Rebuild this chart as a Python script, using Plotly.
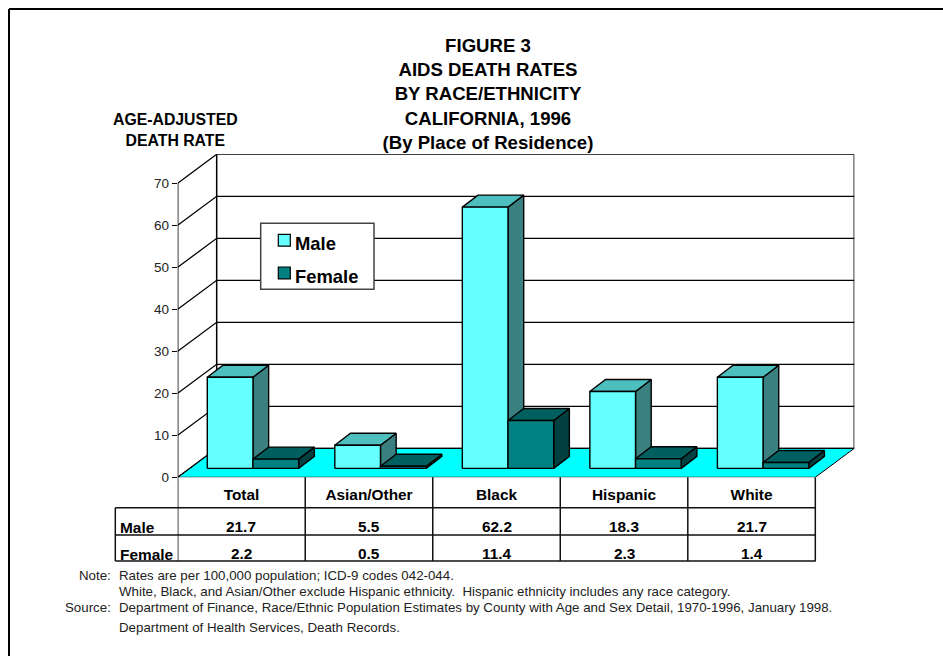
import plotly.graph_objects as go

categories = ["Total", "Asian/Other", "Black", "Hispanic", "White"]
male_rates = [21.7, 5.5, 62.2, 18.3, 21.7]
female_rates = [2.2, 0.5, 11.4, 2.3, 1.4]
y_ticks = [0, 10, 20, 30, 40, 50, 60, 70]
series_names = ["Male", "Female"]
title_lines = ["FIGURE 3", "AIDS DEATH RATES", "BY RACE/ETHNICITY", "CALIFORNIA, 1996", "(By Place of Residence)"]
note_lines = [
    "Rates are per 100,000 population; ICD-9 codes 042-044.",
    "White, Black, and Asian/Other exclude Hispanic ethnicity.  Hispanic ethnicity includes any race category.",
    "Department of Finance, Race/Ethnic Population Estimates by County with Age and Sex Detail, 1970-1996, January 1998.",
    "Department of Health Services, Death Records.",
]

W, H = 943, 656
FONT = "Liberation Sans"
LEFT, RIGHT, BOTTOM, TOP = 177.7, 854.3, 477.3, 154.3
CAT_PX = 127.6
VAL_PX = 4.2
WALL_DX = 39 / CAT_PX
WALL_DY = 29 / VAL_PX
BAR_DX = 15.7 / CAT_PX
BAR_DY = 12 / VAL_PX
BAR_X0 = (207.3 - LEFT) / CAT_PX
BAR_W = 45.7 / CAT_PX
BAR_Y0 = 8.9 / VAL_PX
N = len(categories)
MALE_COLORS = ("#3A8080", "#4DBFBF", "#66FFFF")
FEMALE_COLORS = ("#004040", "#006060", "#008080")

px = lambda p: p / W
py = lambda p: 1 - p / H


def line_trace(xs, ys, width=1.3, color="#000"):
    return go.Scatter(x=xs, y=ys, mode="lines", line=dict(color=color, width=width),
                      hoverinfo="skip", showlegend=False, cliponaxis=False)


def faces(values, slot):
    """Front, top and side polygons of one series, built from its values."""
    front, top, side = ([], []), ([], []), ([], [])
    for i, v in enumerate(values):
        x0 = i + BAR_X0 + slot * BAR_W
        x1 = x0 + BAR_W
        y0 = BAR_Y0
        y1 = y0 + v
        for target, xs, ys in (
            (front, [x0, x1, x1, x0, x0], [y0, y0, y1, y1, y0]),
            (top, [x0, x1, x1 + BAR_DX, x0 + BAR_DX, x0], [y1, y1, y1 + BAR_DY, y1 + BAR_DY, y1]),
            (side, [x1, x1 + BAR_DX, x1 + BAR_DX, x1, x1], [y0, y0 + BAR_DY, y1 + BAR_DY, y1, y0]),
        ):
            target[0].extend(xs + [None])
            target[1].extend(ys + [None])
    return front, top, side


def face_trace(pts, color):
    return go.Scatter(x=pts[0], y=pts[1], mode="lines", fill="toself", fillcolor=color,
                      line=dict(color="#000", width=1.4), hoverinfo="skip",
                      showlegend=False, cliponaxis=False)


fig = go.Figure()

# floor
fig.add_trace(go.Scatter(x=[0, N, N + WALL_DX, WALL_DX, 0], y=[0, 0, WALL_DY, WALL_DY, 0],
                         mode="lines", fill="toself", fillcolor="#00FFFF",
                         line=dict(color="#000", width=1), hoverinfo="skip",
                         showlegend=False, cliponaxis=False))
# walls and gridlines
for t in y_ticks:
    fig.add_trace(line_trace([0, WALL_DX, N + WALL_DX], [t, t + WALL_DY, t + WALL_DY]))
fig.add_trace(line_trace([0, 0], [0, y_ticks[-1]], 1.5))
fig.add_trace(line_trace([WALL_DX, WALL_DX], [WALL_DY, y_ticks[-1] + WALL_DY], 1.5))
fig.add_trace(line_trace([N + WALL_DX, N + WALL_DX], [WALL_DY, y_ticks[-1] + WALL_DY], 1.5))

# bars
m_front, m_top, m_side = faces(male_rates, 0)
f_front, f_top, f_side = faces(female_rates, 1)
for pts, col in ((m_side, MALE_COLORS[0]), (m_top, MALE_COLORS[1]), (m_front, MALE_COLORS[2]),
                 (f_side, FEMALE_COLORS[0]), (f_top, FEMALE_COLORS[1]), (f_front, FEMALE_COLORS[2])):
    fig.add_trace(face_trace(pts, col))


def text(x, y, s, font, xanchor="center", xref="paper"):
    return dict(x=x, y=py(y), xref=xref, yref="paper", xanchor=xanchor, yanchor="middle",
                showarrow=False, text=s, font=font)


anns = []
anns.append(text(px(175.5), 130, "<b>AGE-ADJUSTED<br>DEATH RATE</b>", dict(family=FONT, size=15.8, color="#000")))

# table
bold = dict(family=FONT, size=15.4, color="#000")
for i in range(N):
    anns.append(text(i + 0.5, 526, f"<b>{male_rates[i]}</b>", bold, xref="x"))
    anns.append(text(i + 0.5, 553, f"<b>{female_rates[i]}</b>", bold, xref="x"))
anns.append(text(px(117.5), 527, f"<b>{series_names[0]}</b>", bold, "left"))
anns.append(text(px(117.5), 554, f"<b>{series_names[1]}</b>", bold, "left"))

# notes
small = dict(family=FONT, size=13.3, color="#222")
for line, yp in zip(note_lines, [575, 591, 607, 627]):
    anns.append(text(px(116.5), yp, line.replace("  ", "\u00a0 "), small, "left"))
for label, yp in (("Note:", 575), ("Source:", 607)):
    anns.append(text(px(113), yp, label, small, "right"))

shapes = []
tline = dict(color="#111", width=1.5)
for yp in (507.7, 535, 561):
    shapes.append(dict(type="line", xref="paper", yref="paper", x0=px(115.3), x1=px(LEFT + N * CAT_PX),
                       y0=py(yp), y1=py(yp), line=tline))
shapes.append(dict(type="line", xref="paper", yref="paper", x0=px(115.3), x1=px(115.3),
                   y0=py(507.7), y1=py(561), line=tline))
for i in range(N + 1):
    shapes.append(dict(type="line", xref="x", yref="paper", x0=i, x1=i,
                       y0=py(BOTTOM), y1=py(561), line=tline))
# page frame
frame = dict(color="#000", width=2)
shapes.append(dict(type="line", xref="paper", yref="paper", x0=px(9), x1=1, y0=py(9), y1=py(9), line=frame))
shapes.append(dict(type="line", xref="paper", yref="paper", x0=px(9), x1=px(9), y0=py(9), y1=0, line=frame))

# legend box
shapes.append(dict(type="rect", xref="paper", yref="paper", x0=px(260.7), x1=px(374), y0=py(289.3), y1=py(223.3),
                   fillcolor="#fff", line=dict(color="#444", width=1.5)))
for name, col, top_px, text_y in ((series_names[0], MALE_COLORS[2], 234.3, 243.7),
                                  (series_names[1], FEMALE_COLORS[2], 267, 276.7)):
    shapes.append(dict(type="rect", xref="paper", yref="paper", x0=px(278.3), x1=px(290.3),
                       y0=py(top_px + 11.8), y1=py(top_px), fillcolor=col, line=dict(color="#000", width=1.2)))
    anns.append(text(px(292.5), text_y, f"<b>{name}</b>", dict(family=FONT, size=18.4, color="#000"), "left"))

fig.update_layout(
    width=W, height=H, margin=dict(l=0, r=0, t=0, b=0, autoexpand=False),
    paper_bgcolor="#fff", plot_bgcolor="#fff", showlegend=False,
    title=dict(text="<b>" + "<br>".join(title_lines) + "</b>", x=px(488), xanchor="center",
               y=py(52), yanchor="top", font=dict(family=FONT, size=18.6, color="#000")),
    xaxis=dict(domain=[px(LEFT), px(RIGHT)], range=[0, N + WALL_DX], tickmode="array", automargin=False,
               tickvals=[i + 0.5 for i in range(N)], ticktext=[f"<b>{c}</b>" for c in categories],
               ticks="", showgrid=False, zeroline=False, showline=False, ticklabelstandoff=6,
               tickfont=dict(family=FONT, size=15.4, color="#000"), fixedrange=True),
    yaxis=dict(domain=[py(BOTTOM), py(TOP)], range=[0, y_ticks[-1] + WALL_DY], tickmode="array", automargin=False,
               tickvals=y_ticks, ticks="outside", ticklen=5, tickwidth=1.2, tickcolor="#000",
               showgrid=False, zeroline=False, showline=False,
               tickfont=dict(family=FONT, size=13.5, color="#222"), fixedrange=True),
    annotations=anns, shapes=shapes,
)

fig.write_html("out.html", config=dict(displayModeBar=False),
               post_script="document.body.style.margin='0';")
